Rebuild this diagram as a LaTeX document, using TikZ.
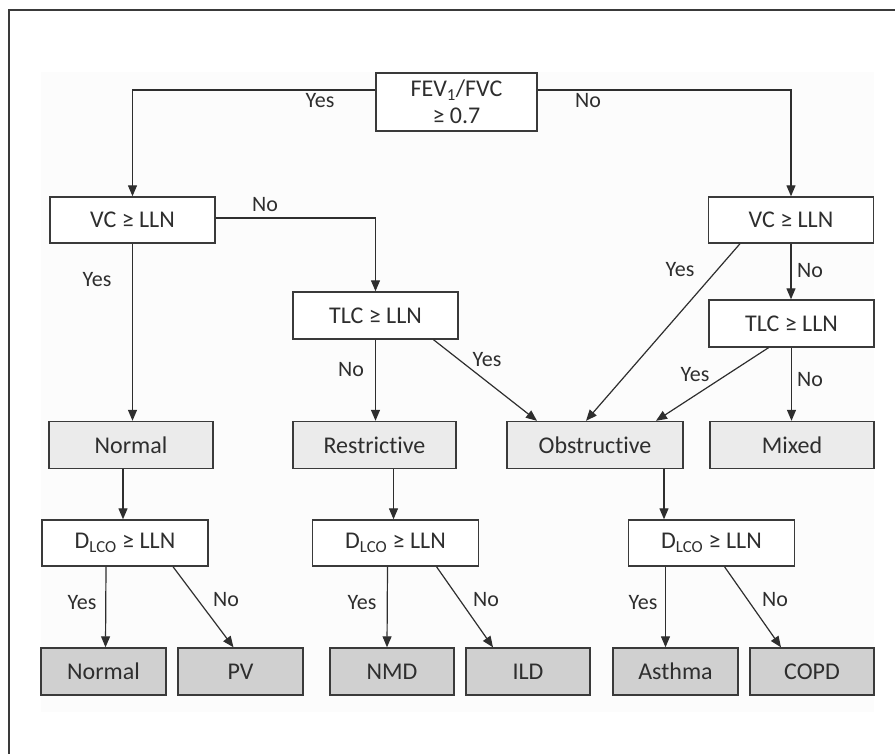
\documentclass[tikz,border=0pt]{standalone}
\usepackage{fontspec}
\setmainfont{Carlito}[Ligatures=NoCommon]
\usepackage{xcolor}
\usetikzlibrary{arrows.meta}
\usetikzlibrary{positioning}
\usetikzlibrary{calc}

\definecolor{frameline}{HTML}{3A3A3A}
\definecolor{panelfill}{HTML}{FCFCFC}
\definecolor{resultfill}{HTML}{EBEBEB}
\definecolor{leaffill}{HTML}{D0D0D0}
\definecolor{inkgrey}{HTML}{2E2E2E}

\tikzset{
	testbox/.style={draw=frameline, line width=1.4pt, fill=white, text=inkgrey,
		inner sep=0pt, minimum width=165pt, minimum height=46pt,
		font=\fontsize{24}{29}\selectfont},
	resultbox/.style={testbox, fill=resultfill, minimum height=47pt},
	leafbox/.style={testbox, fill=leaffill, minimum width=125pt, minimum height=47pt},
	arr/.style={draw=inkgrey, line width=1.2pt, -{Triangle[length=11pt,width=9pt]}},
	lbl/.style={text=inkgrey, inner sep=0pt, font=\fontsize{22}{26}\selectfont},
}

\begin{document}
\begin{tikzpicture}[x=1pt,y=-1pt]
			\useasboundingbox (0,0) rectangle (895,753);
			% Frame and panel
			\fill[panelfill] (41,72) rectangle (874,712);
			\draw[frameline, line width=1.5pt] (9,760) -- (9,10) -- (900,10);
			
			% Tests
			\node[testbox, minimum width=161pt, minimum height=58pt, align=center] (fev) at (456.5,102)
				{FEV\textsubscript{1}/FVC\\[-2pt]≥ 0.7};
			\node[testbox] (vcl) at (132.5,220) {VC ≥ LLN};
			\node[testbox] (vcr) at (791,220) {VC ≥ LLN};
			\node[testbox, minimum height=47pt] (tlcm) at (375.5,315.5) {TLC ≥ LLN};
			\node[testbox, minimum height=47pt] (tlcr) at (791.5,323.5) {TLC ≥ LLN};
			
			% Patterns
			\node[resultbox, minimum width=164pt] (normal) at (131,445) {Normal};
			\node[resultbox, minimum width=163pt] (restr) at (374.5,445) {Restrictive};
			\node[resultbox, minimum width=176pt] (obstr) at (595,445) {Obstructive};
			\node[resultbox, minimum width=164pt] (mixed) at (792,445) {Mixed};
			
			% Diffusion tests
			\node[testbox, minimum width=166pt] (dlcol) at (125,543) {D\textsubscript{LCO} ≥ LLN};
			\node[testbox, minimum width=166pt] (dlcom) at (395.5,543) {D\textsubscript{LCO} ≥ LLN};
			\node[testbox, minimum width=166pt] (dlcor) at (711.5,543) {D\textsubscript{LCO} ≥ LLN};
			
			% Diagnoses
			\node[leafbox] (dnormal) at (103.5,671.5) {Normal};
			\node[leafbox] (dpv) at (240.5,671.5) {PV};
			\node[leafbox, minimum width=124pt] (dnmd) at (392,671.5) {NMD};
			\node[leafbox, minimum width=124pt] (dild) at (528,671.5) {ILD};
			\node[leafbox] (dasthma) at (675.5,671.5) {Asthma};
			\node[leafbox, minimum width=124pt] (dcopd) at (812,671.5) {COPD};
			
			% Arrows
			\draw[arr] ([yshift=12pt]fev.west) -| (vcl.north);
			\draw[arr] ([yshift=12pt]fev.east) -| (vcr.north);
			\draw[arr] ([yshift=2pt]vcl.east) -| (tlcm.north);
			\draw[arr] (vcl.south) -- (vcl.south |- normal.north);
			\draw[arr] (vcr.south) -- (vcr.south |- tlcr.north);
			\draw[arr] ([xshift=-51pt]vcr.south) -- ([xshift=-9pt]obstr.north);
			\draw[arr] (tlcm.south) -- (tlcm.south |- restr.north);
			\draw[arr] ([xshift=58pt]tlcm.south) -- ([xshift=-58pt]obstr.north);
			\draw[arr] ([xshift=-23pt]tlcr.south) -- ([xshift=61pt]obstr.north);
			\draw[arr] (tlcr.south) -- (tlcr.south |- mixed.north);
			\draw[arr] ([xshift=-8pt]normal.south) -- ([xshift=-8pt]normal.south |- dlcol.north);
			\draw[arr] ([xshift=19pt]restr.south) -- ([xshift=19pt]restr.south |- dlcom.north);
			\draw[arr] ([xshift=69pt]obstr.south) -- ([xshift=69pt]obstr.south |- dlcor.north);
			\draw[arr] ([xshift=-19pt]dlcol.south) -- ([xshift=2pt]dnormal.north);
			\draw[arr] ([xshift=48pt]dlcol.south) -- ([xshift=-7pt]dpv.north);
			\draw[arr] ([xshift=-8pt]dlcom.south) -- ([xshift=-5pt]dnmd.north);
			\draw[arr] ([xshift=41pt]dlcom.south) -- ([xshift=-35pt]dild.north);
			\draw[arr] ([xshift=-46pt]dlcor.south) -- ([xshift=-10pt]dasthma.north);
			\draw[arr] ([xshift=13pt]dlcor.south) -- ([xshift=-31pt]dcopd.north);
			
			% Labels
			\node[lbl] (y1) at (320,101) {Yes};
			\node[lbl] (n1) at (588,101) {No};
			\node[lbl] (n2) at (265,205) {No};
			\node[lbl] (y2) at (97,280) {Yes};
			\node[lbl] (y3) at (680,270) {Yes};
			\node[lbl] (n3) at (810,271) {No};
			\node[lbl] (n4) at (351,370) {No};
			\node[lbl] (y4) at (487,360) {Yes};
			\node[lbl] (y5) at (695,375) {Yes};
			\node[lbl] (n5) at (810,380) {No};
			\node[lbl] (y6) at (82,603) {Yes};
			\node[lbl] (n6) at (226,600) {No};
			\node[lbl] (y7) at (362,603) {Yes};
			\node[lbl] (n7) at (486,600) {No};
			\node[lbl] (y8) at (643,603) {Yes};
			\node[lbl] (n8) at (775,600) {No};
\end{tikzpicture}
\end{document}
